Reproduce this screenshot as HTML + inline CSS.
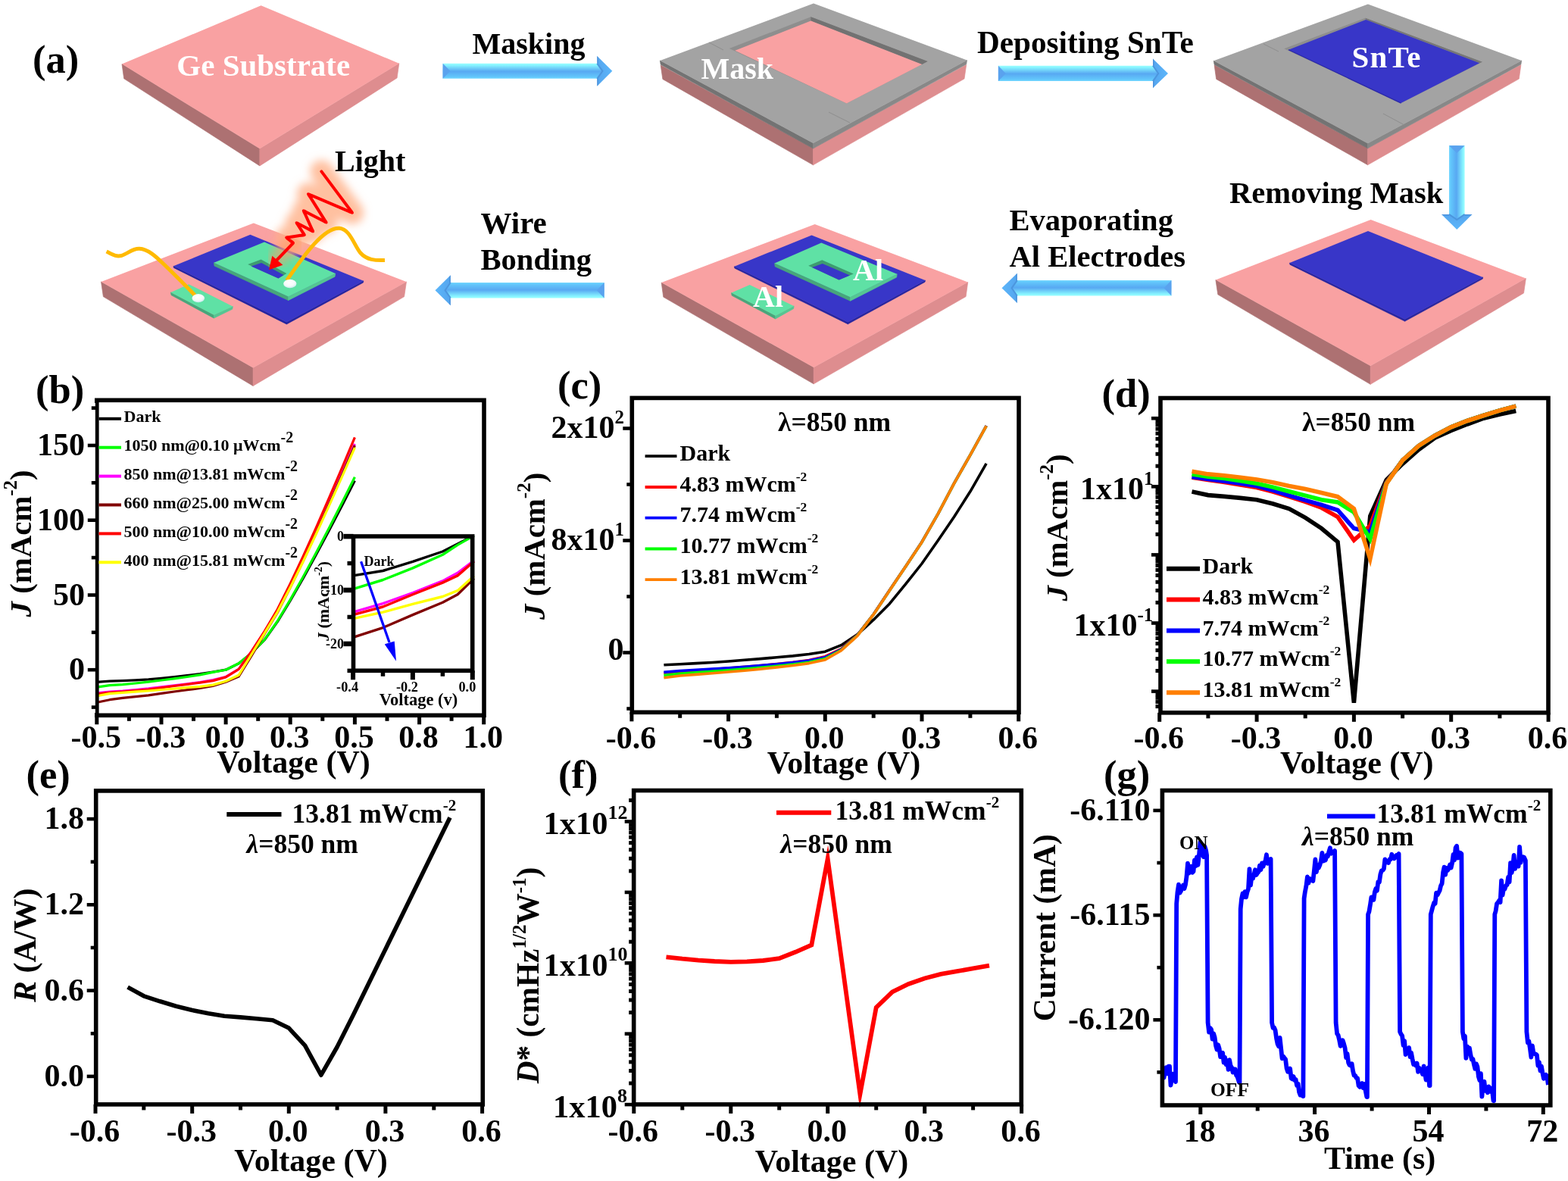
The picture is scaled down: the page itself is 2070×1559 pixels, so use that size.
<!DOCTYPE html>
<html><head><meta charset="utf-8"><title>SnTe/Ge photodetector figure</title>
<style>html,body{margin:0;padding:0;background:#fff;}body{width:2070px;height:1559px;overflow:hidden;}svg{display:block;}</style>
</head><body>
<svg xmlns="http://www.w3.org/2000/svg" width="2070" height="1559" viewBox="0 0 2070 1559"><defs>
<linearGradient id="gA" x1="0" y1="0" x2="0" y2="1" gradientUnits="objectBoundingBox">
<stop offset="0" stop-color="#9CFFFF"/><stop offset="0.12" stop-color="#86F3FF"/>
<stop offset="0.52" stop-color="#58A8F2"/><stop offset="0.88" stop-color="#62C6FB"/><stop offset="1" stop-color="#74D8FF"/></linearGradient>
<linearGradient id="gHead" x1="0" y1="0" x2="1" y2="0" gradientUnits="objectBoundingBox">
<stop offset="0" stop-color="#55A5EE"/><stop offset="1" stop-color="#5CB6FA"/></linearGradient>
<filter id="blur6" x="-50%" y="-50%" width="200%" height="200%"><feGaussianBlur stdDeviation="6"/></filter>
<filter id="blur3" x="-50%" y="-50%" width="200%" height="200%"><feGaussianBlur stdDeviation="3"/></filter>
<radialGradient id="gDot" cx="0.45" cy="0.35" r="0.7"><stop offset="0" stop-color="#FFFFFF"/><stop offset="0.6" stop-color="#F4FAFA"/><stop offset="1" stop-color="#BFE6EC"/></radialGradient>
</defs>
<g font-family="'Liberation Serif','Times New Roman',serif" font-weight="bold">
<text x="43" y="96" font-size="52.5" text-anchor="start" fill="#000" >(a)</text>
<polygon points="161,84.6 342.9,196.3 342.9,218.9 163.7,103.8" fill="#AD7172" stroke="#AD7172" stroke-width="0.7" stroke-linejoin="round"/>
<polygon points="342.9,196.3 526.8,83.7 524.1,102.9 342.9,218.9" fill="#DE8D8F" stroke="#DE8D8F" stroke-width="0.7" stroke-linejoin="round"/>
<polygon points="344.6,7.2 526.8,83.7 342.9,196.3 161,84.6" fill="#F9A1A2" />
<text x="233.3" y="99.5" font-size="41" text-anchor="start" fill="#fff" >Ge Substrate</text>
<g transform="translate(584.6,93.8) rotate(0)"><polygon points="203.7,-19.9 223.7,0 203.7,19.9" fill="url(#gHead)"/><polygon points="203.7,-19.9 205.3,-17.7 205.3,-10 203.7,-10" fill="#4A8FD8" opacity="0.8"/><polygon points="203.7,19.9 205.3,17.7 205.3,10 203.7,10" fill="#4A8FD8" opacity="0.8"/><polygon points="0,-10 203.7,-10 210.9,0 203.7,10 0,10" fill="url(#gA)"/><polyline points="203.7,-10 210.9,0 203.7,10" fill="none" stroke="#4C96DE" stroke-width="2"/><polygon points="0,-10 9.8,0 0,10" fill="#5AA2EE"/></g>
<text x="623.5" y="71.4" font-size="40" text-anchor="start" fill="#000" >Masking</text>
<polygon points="872.2,86 1073.5,196 1073.5,217.8 874.9,104.5" fill="#AD7172" stroke="#AD7172" stroke-width="0.7" stroke-linejoin="round"/>
<polygon points="1073.5,196 1275.7,85.5 1273,104 1073.5,217.8" fill="#DE8D8F" stroke="#DE8D8F" stroke-width="0.7" stroke-linejoin="round"/>
<polygon points="871.4,80 1073.5,189 1073.5,196 872.2,85.2" fill="#737373" stroke="#737373" stroke-width="0.7" stroke-linejoin="round"/>
<polygon points="1073.5,189 1276.5,79.5 1275.7,84.8 1073.5,196" fill="#888888" stroke="#888888" stroke-width="0.7" stroke-linejoin="round"/>
<polygon points="1074,4.6 1276.5,79.5 1073.5,189 871.4,80" fill="#A3A3A3" />
<polygon points="1070.4,22.2 1224.6,81 1117.7,136.5 962.8,64.1" fill="#8E8E8E" />
<polygon points="1070.4,22.2 1224.6,81 1217.1,85.1 1070.4,27.6" fill="#727272" />
<polygon points="1070.4,27.6 1217.1,85.1 1117.7,136.5 970.3,66.8" fill="#F9A1A2" />
<line x1="936" y1="56" x2="955" y2="66" stroke="#8E8E8E" stroke-width="1"/>
<line x1="1094" y1="148" x2="1122" y2="162" stroke="#8E8E8E" stroke-width="1"/>
<text x="925.5" y="104" font-size="40" text-anchor="start" fill="#fff" >Mask</text>
<g transform="translate(1317.9,96.9) rotate(0)"><polygon points="204.1,-19.3 224.1,0 204.1,19.3" fill="url(#gHead)"/><polygon points="204.1,-19.3 205.7,-17.1 205.7,-10.2 204.1,-10.2" fill="#4A8FD8" opacity="0.8"/><polygon points="204.1,19.3 205.7,17.1 205.7,10.2 204.1,10.2" fill="#4A8FD8" opacity="0.8"/><polygon points="0,-10.2 204.1,-10.2 211.3,0 204.1,10.2 0,10.2" fill="url(#gA)"/><polyline points="204.1,-10.2 211.3,0 204.1,10.2" fill="none" stroke="#4C96DE" stroke-width="2"/><polygon points="0,-10.2 9.8,0 0,10.2" fill="#5AA2EE"/></g>
<text x="1290" y="70.2" font-size="41.2" text-anchor="start" fill="#000" >Depositing SnTe</text>
<polygon points="1603.1,85.8 1805.6,195.8 1805.6,217.7 1605.7,104.4" fill="#AD7172" stroke="#AD7172" stroke-width="0.7" stroke-linejoin="round"/>
<polygon points="1805.6,195.8 2007.9,85.5 2005.3,104.1 1805.6,217.7" fill="#DE8D8F" stroke="#DE8D8F" stroke-width="0.7" stroke-linejoin="round"/>
<polygon points="1602.3,80.2 1805.6,189.2 1805.6,195.8 1603.1,85.2" fill="#737373" stroke="#737373" stroke-width="0.7" stroke-linejoin="round"/>
<polygon points="1805.6,189.2 2008.7,79.9 2007.9,84.9 1805.6,195.8" fill="#888888" stroke="#888888" stroke-width="0.7" stroke-linejoin="round"/>
<polygon points="1805.9,5.5 2008.7,79.9 1805.6,189.2 1602.3,80.2" fill="#A3A3A3" />
<polygon points="1802.5,23.8 1956.8,81.7 1849.6,136.1 1695.2,64.3" fill="#8E8E8E" />
<polygon points="1802.5,23.8 1956.8,81.7 1953.2,83.2 1803.2,25.9" fill="#777777" />
<polygon points="1803.2,25.9 1953.2,83.2 1849.6,136.1 1701,65.8" fill="#3836C8" />
<polyline points="1701,65.8 1849.6,136.1" fill="none" stroke="#2A28A8" stroke-width="1.2"/>
<line x1="1668" y1="58" x2="1688" y2="68" stroke="#8E8E8E" stroke-width="1"/>
<line x1="1826" y1="150" x2="1854" y2="165" stroke="#8E8E8E" stroke-width="1"/>
<text x="1784.5" y="88.5" font-size="41" text-anchor="start" fill="#fff" letter-spacing="1.2">SnTe</text>
<g transform="translate(1923.3,192.3) rotate(90)"><polygon points="90.6,-20.2 110.7,0 90.6,20.2" fill="url(#gHead)"/><polygon points="90.6,-20.2 92.2,-18 92.2,-10.3 90.6,-10.3" fill="#4A8FD8" opacity="0.8"/><polygon points="90.6,20.2 92.2,18 92.2,10.3 90.6,10.3" fill="#4A8FD8" opacity="0.8"/><polygon points="0,-10.3 90.6,-10.3 97.8,0 90.6,10.3 0,10.3" fill="url(#gA)"/><polyline points="90.6,-10.3 97.8,0 90.6,10.3" fill="none" stroke="#4C96DE" stroke-width="2"/><polygon points="0,-10.3 9.8,0 0,10.3" fill="#5AA2EE"/></g>
<text x="1623" y="268" font-size="40.5" text-anchor="start" fill="#000" >Removing Mask</text>
<polygon points="1604.9,369.4 1809.2,483.1 1809.2,507.3 1607.8,388.8" fill="#AD7172" stroke="#AD7172" stroke-width="0.7" stroke-linejoin="round"/>
<polygon points="1809.2,483.1 2014.4,367.5 2011.5,386.9 1809.2,507.3" fill="#DE8D8F" stroke="#DE8D8F" stroke-width="0.7" stroke-linejoin="round"/>
<polygon points="1809.6,290.1 2014.4,367.5 1809.2,483.1 1604.9,369.4" fill="#F9A1A2" />
<polygon points="1702.6,347 1854.6,421.5 1854.6,424.1 1702.9,349.2" fill="#2424A0" stroke="#2424A0" stroke-width="0.7" stroke-linejoin="round"/>
<polygon points="1854.6,421.5 1957.6,365.9 1957.3,368.1 1854.6,424.1" fill="#2424A0" stroke="#2424A0" stroke-width="0.7" stroke-linejoin="round"/>
<polygon points="1806,305 1957.6,365.9 1854.6,421.5 1702.6,347" fill="#3836C8" />
<g transform="translate(1546.4,380.3) rotate(180)"><polygon points="203.6,-19.6 223.9,0 203.6,19.6" fill="url(#gHead)"/><polygon points="203.6,-19.6 205.2,-17.4 205.2,-10.2 203.6,-10.2" fill="#4A8FD8" opacity="0.8"/><polygon points="203.6,19.6 205.2,17.4 205.2,10.2 203.6,10.2" fill="#4A8FD8" opacity="0.8"/><polygon points="0,-10.2 203.6,-10.2 210.8,0 203.6,10.2 0,10.2" fill="url(#gA)"/><polyline points="203.6,-10.2 210.8,0 203.6,10.2" fill="none" stroke="#4C96DE" stroke-width="2"/><polygon points="0,-10.2 9.8,0 0,10.2" fill="#5AA2EE"/></g>
<text x="1332.5" y="303.5" font-size="40.6" text-anchor="start" fill="#000" >Evaporating</text>
<text x="1332.5" y="352" font-size="40.6" text-anchor="start" fill="#000" >Al Electrodes</text>
<polygon points="873.2,373.1 1074.2,485 1074.2,506.8 875.8,392.1" fill="#AD7172" stroke="#AD7172" stroke-width="0.7" stroke-linejoin="round"/>
<polygon points="1074.2,485 1277.7,372.5 1275.1,391.5 1074.2,506.8" fill="#DE8D8F" stroke="#DE8D8F" stroke-width="0.7" stroke-linejoin="round"/>
<polygon points="1075.7,296 1277.7,372.5 1074.2,485 873.2,373.1" fill="#F9A1A2" />
<polygon points="969.5,351.8 1119.3,425.2 1119.3,427.8 969.8,354" fill="#2424A0" stroke="#2424A0" stroke-width="0.7" stroke-linejoin="round"/>
<polygon points="1119.3,425.2 1221.4,370 1221.1,372.2 1119.3,427.8" fill="#2424A0" stroke="#2424A0" stroke-width="0.7" stroke-linejoin="round"/>
<polygon points="1071.5,310.4 1221.4,370 1119.3,425.2 969.5,351.8" fill="#3836C8" />
<polygon points="1022.6,347.6 1122.5,392.2 1122.5,397.2 1023.2,351.9" fill="#47A67B" stroke="#47A67B" stroke-width="0.7" stroke-linejoin="round"/>
<polygon points="1122.5,392.2 1184.2,361.8 1183.6,366.1 1122.5,397.2" fill="#55C592" stroke="#55C592" stroke-width="0.7" stroke-linejoin="round"/>
<polygon points="1084.3,320.6 1184.2,361.8 1122.5,392.2 1022.6,347.6" fill="#5FE1A5" />
<polygon points="1085.3,343.3 1126.8,361.4 1107.6,369.5 1067.2,350.8" fill="#3E9C70" />
<polygon points="1085.8,348 1122,363.5 1107.6,369.5 1072,353" fill="#3836C8" />
<polygon points="965.6,386.5 1023.7,416.7 1023.7,420.9 966.1,390.1" fill="#47A67B" stroke="#47A67B" stroke-width="0.7" stroke-linejoin="round"/>
<polygon points="1023.7,416.7 1048.1,403.9 1047.6,407.5 1023.7,420.9" fill="#55C592" stroke="#55C592" stroke-width="0.7" stroke-linejoin="round"/>
<polygon points="989.7,375.9 1048.1,403.9 1023.7,416.7 965.6,386.5" fill="#5FE1A5" />
<text x="994" y="405" font-size="40" text-anchor="start" fill="#fff" >Al</text>
<text x="1126" y="370" font-size="40" text-anchor="start" fill="#fff" >Al</text>
<g transform="translate(797.7,383.2) rotate(180)"><polygon points="202.9,-20 223.2,0 202.9,20" fill="url(#gHead)"/><polygon points="202.9,-20 204.5,-17.8 204.5,-10.2 202.9,-10.2" fill="#4A8FD8" opacity="0.8"/><polygon points="202.9,20 204.5,17.8 204.5,10.2 202.9,10.2" fill="#4A8FD8" opacity="0.8"/><polygon points="0,-10.2 202.9,-10.2 210.1,0 202.9,10.2 0,10.2" fill="url(#gA)"/><polyline points="202.9,-10.2 210.1,0 202.9,10.2" fill="none" stroke="#4C96DE" stroke-width="2"/><polygon points="0,-10.2 9.8,0 0,10.2" fill="#5AA2EE"/></g>
<text x="634.5" y="307.8" font-size="41" text-anchor="start" fill="#000" >Wire</text>
<text x="634.5" y="355.7" font-size="40.6" text-anchor="start" fill="#000" >Bonding</text>
<polygon points="133.5,371.9 334.1,485.4 334.1,509.4 136.4,391.6" fill="#AD7172" stroke="#AD7172" stroke-width="0.7" stroke-linejoin="round"/>
<polygon points="334.1,485.4 536.5,371.9 533.6,391.6 334.1,509.4" fill="#DE8D8F" stroke="#DE8D8F" stroke-width="0.7" stroke-linejoin="round"/>
<polygon points="334.8,294.5 536.5,371.9 334.1,485.4 133.5,371.9" fill="#F9A1A2" />
<polygon points="229,351.2 378.4,425.3 378.4,427.9 229.3,353.4" fill="#2424A0" stroke="#2424A0" stroke-width="0.7" stroke-linejoin="round"/>
<polygon points="378.4,425.3 479.8,370.8 479.5,373 378.4,427.9" fill="#2424A0" stroke="#2424A0" stroke-width="0.7" stroke-linejoin="round"/>
<polygon points="330.4,309.7 479.8,370.8 378.4,425.3 229,351.2" fill="#3836C8" />
<polygon points="282.4,346.8 380.6,391.5 380.6,396.5 283,351.1" fill="#47A67B" stroke="#47A67B" stroke-width="0.7" stroke-linejoin="round"/>
<polygon points="380.6,391.5 442.7,361 442.1,365.2 380.6,396.5" fill="#55C592" stroke="#55C592" stroke-width="0.7" stroke-linejoin="round"/>
<polygon points="349,319.6 442.7,361 380.6,391.5 282.4,346.8" fill="#5FE1A5" />
<polygon points="344.6,342.4 378.4,361 367.5,367.5 327.2,349" fill="#3E9C70" />
<polygon points="345.2,347 374.5,363 367.5,367.5 331.5,351.5" fill="#3836C8" />
<polygon points="225.5,385.9 282.4,415.8 282.4,420 226,389.5" fill="#47A67B" stroke="#47A67B" stroke-width="0.7" stroke-linejoin="round"/>
<polygon points="282.4,415.8 307.3,404.5 306.8,408.1 282.4,420" fill="#55C592" stroke="#55C592" stroke-width="0.7" stroke-linejoin="round"/>
<polygon points="249.3,375.2 307.3,404.5 282.4,415.8 225.5,385.9" fill="#5FE1A5" />
<polyline points="424.4,226.4 465,280.8 407,256.2 430.6,293.6 400.8,278.2 413.1,305.4 391.6,294.2 401.8,310.1 378.2,313.6 387,320.8" fill="none" stroke="#FFB088" stroke-opacity="0.8" stroke-width="30" stroke-linejoin="round" stroke-linecap="round" filter="url(#blur6)"/>
<polyline points="387,320.8 365,342" fill="none" stroke="#FF9A60" stroke-opacity="0.55" stroke-width="22" stroke-linecap="round" filter="url(#blur6)"/>
<path d="M424.4,226.4 L462.0,276.8 C466.0,282.2 466.6,281.5 460.4,278.8 L411.6,258.2 C405.4,255.5 406.1,254.7 409.7,260.4 L427.9,289.4 C431.5,295.1 432.2,294.4 426.2,291.3 L405.2,280.5 C399.2,277.4 400.1,276.6 402.9,282.8 L411.0,300.8 C413.8,307.0 414.7,306.2 408.7,303.1 L396.0,296.5 C390.0,293.4 390.7,292.7 394.3,298.4 L399.1,305.9 C402.7,311.6 403.5,309.8 396.9,310.8 L382.7,312.9 C376.6,313.8 377.0,312.6 381.7,316.5 L383.5,317.9 C388.2,321.8 388.1,319.7 383.9,324.1 L358.5,350.5" fill="none" stroke="#FF0000" stroke-width="4" stroke-linejoin="round" stroke-linecap="round"/>
<polygon points="355.1,356.2 359.3,337.8 373.4,349.8" fill="#FF0000" />
<path d="M140.6,332 C149,336 153,339 160,337.5 C168,335.5 174,328 184,328.3 C196,329 206,339 216,348.5 C230,362 246,378 257.5,390" fill="none" stroke="#FFBA00" stroke-width="5"/>
<path d="M378.5,370 C395,347 425,300 448,301.3 C462,302 468,325 476,334 C484,343 495,344 508,343.5" fill="none" stroke="#FFBA00" stroke-width="5"/>
<ellipse cx="261.8" cy="393.6" rx="8.3" ry="5.6" fill="url(#gDot)"/>
<ellipse cx="382.8" cy="374.5" rx="8.6" ry="5.8" fill="url(#gDot)"/>
<text x="442" y="225.8" font-size="40" text-anchor="start" fill="#000" >Light</text>
</g>
<g font-family="'Liberation Serif','Times New Roman',serif" font-weight="bold">
<text x="47" y="532.3" font-size="52.5" text-anchor="start" fill="#000" >(b)</text>
<polyline points="127.8,900.4 144.8,899.2 161.9,898.6 178.9,897.8 195.9,896.8 213,895.3 230,893.5 247,891.7 264,889.7 281.1,887 298.1,884.2 315.1,875.9 332.2,861.9 349.2,844.7 366.2,820.9 383.2,793 400.3,763.3 417.3,732.3 434.3,700.4 451.4,667.7 468.4,634.4" fill="none" stroke="#000000" stroke-width="3.2" stroke-linejoin="round" />
<polyline points="127.8,907.1 144.8,904.7 161.9,903.6 178.9,902 195.9,900.2 213,898 230,895.9 247,893.5 264,890.9 281.1,887.4 298.1,884.2 315.1,875.7 332.2,861.9 349.2,844.3 366.2,820 383.2,791.6 400.3,761.3 417.3,729.7 434.3,697.2 451.4,663.8 468.4,629.8" fill="none" stroke="#00FF00" stroke-width="3.2" stroke-linejoin="round" />
<polyline points="127.8,914.8 144.8,913 161.9,912 178.9,910.5 195.9,908.9 213,906.9 230,904.9 247,902.8 264,900.6 281.1,897.6 298.1,893.5 315.1,883.4 332.2,859.7 349.2,833.8 366.2,805.8 383.2,772.9 400.3,737.9 417.3,701.4 434.3,663.8 451.4,625.3 468.4,586" fill="none" stroke="#FF00FF" stroke-width="3.2" stroke-linejoin="round" />
<polyline points="127.8,927.3 144.8,923.7 161.9,921.3 178.9,919.6 195.9,917.8 213,915.4 230,913 247,910.7 264,908.5 281.1,905.5 298.1,900.2 315.1,893.1 332.2,865.4 349.2,836.8 366.2,808.7 383.2,775.6 400.3,740.5 417.3,703.8 434.3,666.1 451.4,627.4 468.4,588" fill="none" stroke="#800000" stroke-width="3.2" stroke-linejoin="round" />
<polyline points="127.8,916.2 144.8,914 161.9,913 178.9,911.7 195.9,910.1 213,907.9 230,905.5 247,903.4 264,901.2 281.1,898.6 298.1,893.9 315.1,883.4 332.2,859.7 349.2,833.4 366.2,804.5 383.2,770.5 400.3,734.3 417.3,696.6 434.3,657.7 451.4,617.9 468.4,577.3" fill="none" stroke="#FF0000" stroke-width="3.2" stroke-linejoin="round" />
<polyline points="127.8,918.8 144.8,915.6 161.9,914.4 178.9,913.2 195.9,912 213,910.5 230,909.1 247,907.7 264,906.3 281.1,904.1 298.1,899.2 315.1,891.3 332.2,863.5 349.2,835.8 366.2,808.1 383.2,775.6 400.3,741 417.3,705 434.3,667.8 451.4,629.7 468.4,590.9" fill="none" stroke="#FFFF00" stroke-width="3.2" stroke-linejoin="round" />
<rect x="127.8" y="528.3" width="511.2" height="416" fill="none" stroke="#000" stroke-width="5.6"/>
<rect x="124" y="532" width="1.8" height="409" fill="#fff"/>
<line x1="127.8" y1="944.3" x2="127.8" y2="956.3" stroke="#000" stroke-width="5"/>
<text x="126.8" y="986.5" font-size="42" text-anchor="middle" fill="#000" >-0.5</text>
<line x1="213" y1="944.3" x2="213" y2="956.3" stroke="#000" stroke-width="5"/>
<text x="212" y="986.5" font-size="42" text-anchor="middle" fill="#000" >-0.3</text>
<line x1="298.1" y1="944.3" x2="298.1" y2="956.3" stroke="#000" stroke-width="5"/>
<text x="297.1" y="986.5" font-size="42" text-anchor="middle" fill="#000" >0.0</text>
<line x1="383.2" y1="944.3" x2="383.2" y2="956.3" stroke="#000" stroke-width="5"/>
<text x="382.2" y="986.5" font-size="42" text-anchor="middle" fill="#000" >0.3</text>
<line x1="468.4" y1="944.3" x2="468.4" y2="956.3" stroke="#000" stroke-width="5"/>
<text x="467.4" y="986.5" font-size="42" text-anchor="middle" fill="#000" >0.5</text>
<line x1="553.6" y1="944.3" x2="553.6" y2="956.3" stroke="#000" stroke-width="5"/>
<text x="552.6" y="986.5" font-size="42" text-anchor="middle" fill="#000" >0.8</text>
<line x1="638.7" y1="944.3" x2="638.7" y2="956.3" stroke="#000" stroke-width="5"/>
<text x="637.7" y="986.5" font-size="42" text-anchor="middle" fill="#000" >1.0</text>
<line x1="170.4" y1="944.3" x2="170.4" y2="951.8" stroke="#000" stroke-width="5"/>
<line x1="255.5" y1="944.3" x2="255.5" y2="951.8" stroke="#000" stroke-width="5"/>
<line x1="340.7" y1="944.3" x2="340.7" y2="951.8" stroke="#000" stroke-width="5"/>
<line x1="425.8" y1="944.3" x2="425.8" y2="951.8" stroke="#000" stroke-width="5"/>
<line x1="511" y1="944.3" x2="511" y2="951.8" stroke="#000" stroke-width="5"/>
<line x1="596.1" y1="944.3" x2="596.1" y2="951.8" stroke="#000" stroke-width="5"/>
<line x1="127.8" y1="884.2" x2="115.8" y2="884.2" stroke="#000" stroke-width="4.6"/>
<text x="112" y="897.2" font-size="42" text-anchor="end" fill="#000" >0</text>
<line x1="127.8" y1="785.5" x2="115.8" y2="785.5" stroke="#000" stroke-width="4.6"/>
<text x="112" y="798.5" font-size="42" text-anchor="end" fill="#000" >50</text>
<line x1="127.8" y1="686.7" x2="115.8" y2="686.7" stroke="#000" stroke-width="4.6"/>
<text x="112" y="699.7" font-size="42" text-anchor="end" fill="#000" >100</text>
<line x1="127.8" y1="588" x2="115.8" y2="588" stroke="#000" stroke-width="4.6"/>
<text x="112" y="601" font-size="42" text-anchor="end" fill="#000" >150</text>
<line x1="127.8" y1="933.6" x2="120.8" y2="933.6" stroke="#000" stroke-width="4.6"/>
<line x1="127.8" y1="834.8" x2="120.8" y2="834.8" stroke="#000" stroke-width="4.6"/>
<line x1="127.8" y1="736.1" x2="120.8" y2="736.1" stroke="#000" stroke-width="4.6"/>
<line x1="127.8" y1="637.3" x2="120.8" y2="637.3" stroke="#000" stroke-width="4.6"/>
<line x1="127.8" y1="538.6" x2="120.8" y2="538.6" stroke="#000" stroke-width="4.6"/>
<text x="387.5" y="1020" font-size="42" text-anchor="middle" fill="#000" >Voltage (V)</text>
<text transform="translate(40.6,717.4) rotate(-90)" font-size="40.8" text-anchor="middle"><tspan font-style="italic">J</tspan> (mAcm<tspan font-size="25" dy="-19">-2</tspan><tspan dy="19">)</tspan></text>
<line x1="130.5" y1="552.8" x2="160" y2="552.8" stroke="#000000" stroke-width="4"/>
<text x="163.5" y="557.1" font-size="22" text-anchor="start" fill="#000" >Dark</text>
<line x1="130.5" y1="590.7" x2="160" y2="590.7" stroke="#00FF00" stroke-width="4"/>
<text x="163.5" y="595" font-size="22" text-anchor="start" fill="#000" >1050 nm@0.10 μWcm<tspan font-size="20" dy="-11">-2</tspan></text>
<line x1="130.5" y1="628.6" x2="160" y2="628.6" stroke="#FF00FF" stroke-width="4"/>
<text x="163.5" y="632.9" font-size="22" text-anchor="start" fill="#000" >850 nm@13.81 mWcm<tspan font-size="20" dy="-11">-2</tspan></text>
<line x1="130.5" y1="666.5" x2="160" y2="666.5" stroke="#800000" stroke-width="4"/>
<text x="163.5" y="670.8" font-size="22" text-anchor="start" fill="#000" >660 nm@25.00 mWcm<tspan font-size="20" dy="-11">-2</tspan></text>
<line x1="130.5" y1="704.4" x2="160" y2="704.4" stroke="#FF0000" stroke-width="4"/>
<text x="163.5" y="708.7" font-size="22" text-anchor="start" fill="#000" >500 nm@10.00 mWcm<tspan font-size="20" dy="-11">-2</tspan></text>
<line x1="130.5" y1="742.3" x2="160" y2="742.3" stroke="#FFFF00" stroke-width="4"/>
<text x="163.5" y="746.6" font-size="22" text-anchor="start" fill="#000" >400 nm@15.81 mWcm<tspan font-size="20" dy="-11">-2</tspan></text>
<polyline points="466.1,759.9 505.5,753.5 544.9,741.4 584.4,728 604.1,718 623.8,708.1 625.8,707.1" fill="none" stroke="#000000" stroke-width="3.4" stroke-linejoin="round" />
<polyline points="466.1,777.6 505.5,765.5 544.9,749.9 584.4,732.2 604.1,719.4 623.8,708.1 625.8,707" fill="none" stroke="#00FF00" stroke-width="3.4" stroke-linejoin="round" />
<polyline points="466.1,808.1 505.5,796.7 544.9,782.5 584.4,766.9 604.1,756.3 623.8,741.4 625.8,739.9" fill="none" stroke="#FF00FF" stroke-width="3.4" stroke-linejoin="round" />
<polyline points="466.1,841.4 505.5,828.6 544.9,811.6 584.4,795.3 604.1,784.7 623.8,765.5 625.8,763.6" fill="none" stroke="#800000" stroke-width="3.4" stroke-linejoin="round" />
<polyline points="466.1,811.6 505.5,801 544.9,784.7 584.4,769.1 604.1,759.9 623.8,742.8 625.8,741.1" fill="none" stroke="#FF0000" stroke-width="3.4" stroke-linejoin="round" />
<polyline points="466.1,816.6 505.5,808.1 544.9,797.4 584.4,787.5 604.1,779.7 623.8,762 625.8,760.2" fill="none" stroke="#FFFF00" stroke-width="3.4" stroke-linejoin="round" />
<rect x="466.5" y="708" width="157.2" height="177.3" fill="none" stroke="#000" stroke-width="5.6"/>
<line x1="466.1" y1="885.3" x2="466.1" y2="897.3" stroke="#000" stroke-width="6"/>
<line x1="544.9" y1="885.3" x2="544.9" y2="897.3" stroke="#000" stroke-width="6"/>
<line x1="623.8" y1="885.3" x2="623.8" y2="897.3" stroke="#000" stroke-width="6"/>
<line x1="505.5" y1="885.3" x2="505.5" y2="892.8" stroke="#000" stroke-width="5.5"/>
<line x1="584.4" y1="885.3" x2="584.4" y2="892.8" stroke="#000" stroke-width="5.5"/>
<text x="458.6" y="913" font-size="18.3" text-anchor="middle" fill="#000" >-0.4</text>
<text x="537.5" y="913" font-size="18.3" text-anchor="middle" fill="#000" >-0.2</text>
<text x="616.9" y="913" font-size="18.3" text-anchor="middle" fill="#000" >0.0</text>
<line x1="466.5" y1="708.1" x2="453.5" y2="708.1" stroke="#000" stroke-width="6.5"/>
<line x1="466.5" y1="779" x2="453.5" y2="779" stroke="#000" stroke-width="6.5"/>
<line x1="466.5" y1="849.9" x2="453.5" y2="849.9" stroke="#000" stroke-width="6.5"/>
<line x1="466.5" y1="743.6" x2="458.5" y2="743.6" stroke="#000" stroke-width="5.5"/>
<line x1="466.5" y1="814.5" x2="458.5" y2="814.5" stroke="#000" stroke-width="5.5"/>
<line x1="466.5" y1="885.4" x2="458.5" y2="885.4" stroke="#000" stroke-width="5.5"/>
<text x="454" y="713.5" font-size="18" text-anchor="end" fill="#000" >0</text>
<text x="454" y="784.6" font-size="18" text-anchor="end" fill="#000" >-10</text>
<text x="454" y="855.7" font-size="18" text-anchor="end" fill="#000" >-20</text>
<text x="552.5" y="930.7" font-size="22.5" text-anchor="middle" fill="#000" >Voltage (v)</text>
<text transform="translate(433.5,793.5) rotate(-90)" font-size="22" text-anchor="middle"><tspan font-style="italic">J</tspan> (mAcm<tspan font-size="14" dy="-9">-2</tspan><tspan dy="9">)</tspan></text>
<text x="480.5" y="747" font-size="18" text-anchor="start" fill="#000" >Dark</text>
<line x1="476.6" y1="741.3" x2="514" y2="848" stroke="#0000FF" stroke-width="3.3"/>
<polygon points="523,872.8 507.8,850.4 520.7,846.4" fill="#0000FF" />
<text x="736" y="526" font-size="52.5" text-anchor="start" fill="#000" >(c)</text>
<polyline points="876.4,877.8 897.7,876.7 919,875.6 940.3,874.5 961.6,873 982.9,871.3 1004.2,869.6 1025.4,867.8 1046.7,865.9 1068,863.5 1089.3,860.2 1110.6,851.7 1131.9,837.6 1153.2,818.2 1174.4,796.9 1195.7,770.9 1217,744 1238.3,713.5 1259.6,682.2 1280.9,648.8 1302.1,611.8" fill="none" stroke="#000000" stroke-width="3.6" stroke-linejoin="round" />
<polyline points="876.4,888.3 897.7,886.5 919,885 940.3,883.5 961.6,882 982.9,880.4 1004.2,878.5 1025.4,876.5 1046.7,874.3 1068,871.5 1089.3,866.7 1110.6,856.7 1131.9,838.2 1153.2,810.8 1174.4,779 1195.7,747.5 1217,715.4 1238.3,678.4 1259.6,637.8 1280.9,600.6 1302.1,562" fill="none" stroke="#FF0000" stroke-width="3.6" stroke-linejoin="round" />
<polyline points="876.4,887.4 897.7,885.5 919,884.3 940.3,883 961.6,881.7 982.9,880.2 1004.2,878.5 1025.4,876.7 1046.7,874.6 1068,872 1089.3,867.8 1110.6,857.4 1131.9,838.6 1153.2,811 1174.4,779.2 1195.7,747.7 1217,715.5 1238.3,678.4 1259.6,638 1280.9,600.6 1302.1,562.2" fill="none" stroke="#0000FF" stroke-width="3.6" stroke-linejoin="round" />
<polyline points="876.4,891.5 897.7,889.2 919,887.8 940.3,886.3 961.6,884.8 982.9,883.1 1004.2,881.3 1025.4,879.3 1046.7,877 1068,874.3 1089.3,869.6 1110.6,858.2 1131.9,838.9 1153.2,811.2 1174.4,779.4 1195.7,747.7 1217,715.7 1238.3,678.4 1259.6,638.2 1280.9,600.6 1302.1,562.4" fill="none" stroke="#00FF00" stroke-width="3.6" stroke-linejoin="round" />
<polyline points="876.4,894.8 897.7,892 919,890.4 940.3,888.7 961.6,887 982.9,885.2 1004.2,883.1 1025.4,880.9 1046.7,878.5 1068,875.6 1089.3,870.9 1110.6,858.7 1131.9,839.3 1153.2,811.2 1174.4,779.4 1195.7,747.7 1217,715.7 1238.3,678.4 1259.6,638.2 1280.9,600.6 1302.1,562.4" fill="none" stroke="#FF7F00" stroke-width="3.6" stroke-linejoin="round" />
<rect x="834.3" y="525.4" width="510.7" height="414.9" fill="none" stroke="#000" stroke-width="5.6"/>
<line x1="833.9" y1="940.3" x2="833.9" y2="952.3" stroke="#000" stroke-width="5"/>
<text x="832.9" y="988.4" font-size="42" text-anchor="middle" fill="#000" >-0.6</text>
<line x1="961.6" y1="940.3" x2="961.6" y2="952.3" stroke="#000" stroke-width="5"/>
<text x="960.6" y="988.4" font-size="42" text-anchor="middle" fill="#000" >-0.3</text>
<line x1="1089.3" y1="940.3" x2="1089.3" y2="952.3" stroke="#000" stroke-width="5"/>
<text x="1088.3" y="988.4" font-size="42" text-anchor="middle" fill="#000" >0.0</text>
<line x1="1217" y1="940.3" x2="1217" y2="952.3" stroke="#000" stroke-width="5"/>
<text x="1216" y="988.4" font-size="42" text-anchor="middle" fill="#000" >0.3</text>
<line x1="1344.7" y1="940.3" x2="1344.7" y2="952.3" stroke="#000" stroke-width="5"/>
<text x="1343.7" y="988.4" font-size="42" text-anchor="middle" fill="#000" >0.6</text>
<line x1="897.7" y1="940.3" x2="897.7" y2="947.8" stroke="#000" stroke-width="5"/>
<line x1="1025.4" y1="940.3" x2="1025.4" y2="947.8" stroke="#000" stroke-width="5"/>
<line x1="1153.2" y1="940.3" x2="1153.2" y2="947.8" stroke="#000" stroke-width="5"/>
<line x1="1280.9" y1="940.3" x2="1280.9" y2="947.8" stroke="#000" stroke-width="5"/>
<line x1="834.3" y1="861.5" x2="822.3" y2="861.5" stroke="#000" stroke-width="4.6"/>
<line x1="834.3" y1="713.5" x2="822.3" y2="713.5" stroke="#000" stroke-width="4.6"/>
<line x1="834.3" y1="565.5" x2="822.3" y2="565.5" stroke="#000" stroke-width="4.6"/>
<line x1="834.3" y1="935.5" x2="827.3" y2="935.5" stroke="#000" stroke-width="4.6"/>
<line x1="834.3" y1="787.5" x2="827.3" y2="787.5" stroke="#000" stroke-width="4.6"/>
<line x1="834.3" y1="639.5" x2="827.3" y2="639.5" stroke="#000" stroke-width="4.6"/>
<text x="823.5" y="870.5" font-size="42" text-anchor="end" fill="#000" >0</text>
<text x="727.5" y="726" font-size="42" text-anchor="start" fill="#000" >8x10<tspan font-size="25" dy="-19">1</tspan></text>
<text x="727.5" y="578" font-size="42" text-anchor="start" fill="#000" >2x10<tspan font-size="25" dy="-19">2</tspan></text>
<text x="1114" y="1021" font-size="42" text-anchor="middle" fill="#000" >Voltage (V)</text>
<text transform="translate(719.4,720.8) rotate(-90)" font-size="40.8" text-anchor="middle"><tspan font-style="italic">J</tspan> (mAcm<tspan font-size="25" dy="-19">-2</tspan><tspan dy="19">)</tspan></text>
<text x="1027" y="569.4" font-size="35.5" text-anchor="start" fill="#000" >λ=850 nm</text>
<line x1="851.6" y1="602.2" x2="893.5" y2="602.2" stroke="#000000" stroke-width="3.8"/>
<text x="897.5" y="607.7" font-size="30" text-anchor="start" fill="#000" >Dark</text>
<line x1="851.6" y1="643" x2="893.5" y2="643" stroke="#FF0000" stroke-width="3.8"/>
<text x="897.5" y="648.5" font-size="30" text-anchor="start" fill="#000" >4.83 mWcm<tspan font-size="17.5" dy="-14">-2</tspan></text>
<line x1="851.6" y1="683.7" x2="893.5" y2="683.7" stroke="#0000FF" stroke-width="3.8"/>
<text x="897.5" y="689.2" font-size="30" text-anchor="start" fill="#000" >7.74 mWcm<tspan font-size="17.5" dy="-14">-2</tspan></text>
<line x1="851.6" y1="724.5" x2="893.5" y2="724.5" stroke="#00FF00" stroke-width="3.8"/>
<text x="897.5" y="730" font-size="30" text-anchor="start" fill="#000" >10.77 mWcm<tspan font-size="17.5" dy="-14">-2</tspan></text>
<line x1="851.6" y1="765.2" x2="893.5" y2="765.2" stroke="#FF7F00" stroke-width="3.8"/>
<text x="897.5" y="770.7" font-size="30" text-anchor="start" fill="#000" >13.81 mWcm<tspan font-size="17.5" dy="-14">-2</tspan></text>
<text x="1454.5" y="536.6" font-size="52.5" text-anchor="start" fill="#000" >(d)</text>
<polyline points="1573.5,649 1594.9,653.6 1616.3,655.4 1637.7,657.4 1659.1,659.8 1680.5,665 1701.8,671.5 1723.2,683.4 1744.6,697.5 1766,715.3 1787.4,927.7 1808.8,681.2 1830.2,633.6 1851.6,612.3 1873,593.4 1894.4,578 1915.7,568.5 1937.1,560 1958.5,552.2 1979.9,547.1 2001.3,542.5" fill="none" stroke="#000000" stroke-width="5.6" stroke-linejoin="miter" stroke-miterlimit="6"/>
<polyline points="1573.5,630.3 1594.9,633.6 1616.3,636.5 1637.7,640 1659.1,643.5 1680.5,649.1 1701.8,655.7 1723.2,662.3 1744.6,670.2 1766,682.3 1787.4,713 1808.8,694 1830.2,636.8 1851.6,607.7 1873,588.5 1894.4,574.9 1915.7,563.8 1937.1,555.5 1958.5,548.5 1979.9,541.9 2001.3,536.1" fill="none" stroke="#FF0000" stroke-width="5.6" stroke-linejoin="miter" stroke-miterlimit="6"/>
<polyline points="1573.5,629.4 1594.9,632.6 1616.3,635.2 1637.7,638.2 1659.1,641.5 1680.5,647.3 1701.8,654.1 1723.2,660.4 1744.6,666.4 1766,673.5 1787.4,697.5 1808.8,702.3 1830.2,637.9 1851.6,607.7 1873,588.5 1894.4,574.9 1915.7,563.8 1937.1,555.5 1958.5,548.5 1979.9,541.9 2001.3,536.1" fill="none" stroke="#0000FF" stroke-width="5.6" stroke-linejoin="miter" stroke-miterlimit="6"/>
<polyline points="1573.5,625.9 1594.9,629.1 1616.3,631.4 1637.7,634.8 1659.1,638.2 1680.5,643.1 1701.8,648.7 1723.2,654.1 1744.6,659.8 1766,662.9 1787.4,676.2 1808.8,711.6 1830.2,638.2 1851.6,607.7 1873,588.5 1894.4,574.9 1915.7,563.8 1937.1,555.5 1958.5,548.5 1979.9,541.9 2001.3,536.1" fill="none" stroke="#00FF00" stroke-width="5.6" stroke-linejoin="miter" stroke-miterlimit="6"/>
<polyline points="1573.5,622.2 1594.9,625.9 1616.3,627.8 1637.7,630.3 1659.1,632.9 1680.5,636.8 1701.8,641.5 1723.2,645.6 1744.6,650.5 1766,655.7 1787.4,671.5 1808.8,737.8 1830.2,638.6 1851.6,607.7 1873,588.5 1894.4,574.9 1915.7,563.8 1937.1,555.5 1958.5,548.5 1979.9,541.9 2001.3,536.1" fill="none" stroke="#FF7F00" stroke-width="5.6" stroke-linejoin="miter" stroke-miterlimit="6"/>
<rect x="1532" y="525.5" width="512" height="415.3" fill="none" stroke="#000" stroke-width="5.6"/>
<line x1="1530.7" y1="940.8" x2="1530.7" y2="952.8" stroke="#000" stroke-width="5"/>
<text x="1529.7" y="988.3" font-size="42" text-anchor="middle" fill="#000" >-0.6</text>
<line x1="1659.1" y1="940.8" x2="1659.1" y2="952.8" stroke="#000" stroke-width="5"/>
<text x="1658.1" y="988.3" font-size="42" text-anchor="middle" fill="#000" >-0.3</text>
<line x1="1787.4" y1="940.8" x2="1787.4" y2="952.8" stroke="#000" stroke-width="5"/>
<text x="1786.4" y="988.3" font-size="42" text-anchor="middle" fill="#000" >0.0</text>
<line x1="1915.7" y1="940.8" x2="1915.7" y2="952.8" stroke="#000" stroke-width="5"/>
<text x="1914.7" y="988.3" font-size="42" text-anchor="middle" fill="#000" >0.3</text>
<line x1="2044.1" y1="940.8" x2="2044.1" y2="952.8" stroke="#000" stroke-width="5"/>
<text x="2043.1" y="988.3" font-size="42" text-anchor="middle" fill="#000" >0.6</text>
<line x1="1594.9" y1="940.8" x2="1594.9" y2="948.3" stroke="#000" stroke-width="5"/>
<line x1="1723.2" y1="940.8" x2="1723.2" y2="948.3" stroke="#000" stroke-width="5"/>
<line x1="1851.6" y1="940.8" x2="1851.6" y2="948.3" stroke="#000" stroke-width="5"/>
<line x1="1979.9" y1="940.8" x2="1979.9" y2="948.3" stroke="#000" stroke-width="5"/>
<line x1="1532" y1="932.6" x2="1525.5" y2="932.6" stroke="#000" stroke-width="5"/>
<line x1="1532" y1="926.6" x2="1525.5" y2="926.6" stroke="#000" stroke-width="5"/>
<line x1="1532" y1="921.3" x2="1525.5" y2="921.3" stroke="#000" stroke-width="5"/>
<line x1="1532" y1="916.7" x2="1525.5" y2="916.7" stroke="#000" stroke-width="5"/>
<line x1="1532" y1="912.6" x2="1520" y2="912.6" stroke="#000" stroke-width="4.6"/>
<line x1="1532" y1="885.5" x2="1525.5" y2="885.5" stroke="#000" stroke-width="5"/>
<line x1="1532" y1="869.6" x2="1525.5" y2="869.6" stroke="#000" stroke-width="5"/>
<line x1="1532" y1="858.4" x2="1525.5" y2="858.4" stroke="#000" stroke-width="5"/>
<line x1="1532" y1="849.6" x2="1525.5" y2="849.6" stroke="#000" stroke-width="5"/>
<line x1="1532" y1="842.5" x2="1525.5" y2="842.5" stroke="#000" stroke-width="5"/>
<line x1="1532" y1="836.5" x2="1525.5" y2="836.5" stroke="#000" stroke-width="5"/>
<line x1="1532" y1="831.2" x2="1525.5" y2="831.2" stroke="#000" stroke-width="5"/>
<line x1="1532" y1="826.6" x2="1525.5" y2="826.6" stroke="#000" stroke-width="5"/>
<line x1="1532" y1="822.5" x2="1520" y2="822.5" stroke="#000" stroke-width="4.6"/>
<line x1="1532" y1="795.4" x2="1525.5" y2="795.4" stroke="#000" stroke-width="5"/>
<line x1="1532" y1="779.5" x2="1525.5" y2="779.5" stroke="#000" stroke-width="5"/>
<line x1="1532" y1="768.3" x2="1525.5" y2="768.3" stroke="#000" stroke-width="5"/>
<line x1="1532" y1="759.5" x2="1525.5" y2="759.5" stroke="#000" stroke-width="5"/>
<line x1="1532" y1="752.4" x2="1525.5" y2="752.4" stroke="#000" stroke-width="5"/>
<line x1="1532" y1="746.4" x2="1525.5" y2="746.4" stroke="#000" stroke-width="5"/>
<line x1="1532" y1="741.1" x2="1525.5" y2="741.1" stroke="#000" stroke-width="5"/>
<line x1="1532" y1="736.5" x2="1525.5" y2="736.5" stroke="#000" stroke-width="5"/>
<line x1="1532" y1="732.4" x2="1520" y2="732.4" stroke="#000" stroke-width="4.6"/>
<line x1="1532" y1="705.3" x2="1525.5" y2="705.3" stroke="#000" stroke-width="5"/>
<line x1="1532" y1="689.4" x2="1525.5" y2="689.4" stroke="#000" stroke-width="5"/>
<line x1="1532" y1="678.2" x2="1525.5" y2="678.2" stroke="#000" stroke-width="5"/>
<line x1="1532" y1="669.4" x2="1525.5" y2="669.4" stroke="#000" stroke-width="5"/>
<line x1="1532" y1="662.3" x2="1525.5" y2="662.3" stroke="#000" stroke-width="5"/>
<line x1="1532" y1="656.3" x2="1525.5" y2="656.3" stroke="#000" stroke-width="5"/>
<line x1="1532" y1="651" x2="1525.5" y2="651" stroke="#000" stroke-width="5"/>
<line x1="1532" y1="646.4" x2="1525.5" y2="646.4" stroke="#000" stroke-width="5"/>
<line x1="1532" y1="642.3" x2="1520" y2="642.3" stroke="#000" stroke-width="4.6"/>
<line x1="1532" y1="615.2" x2="1525.5" y2="615.2" stroke="#000" stroke-width="5"/>
<line x1="1532" y1="599.3" x2="1525.5" y2="599.3" stroke="#000" stroke-width="5"/>
<line x1="1532" y1="588.1" x2="1525.5" y2="588.1" stroke="#000" stroke-width="5"/>
<line x1="1532" y1="579.3" x2="1525.5" y2="579.3" stroke="#000" stroke-width="5"/>
<line x1="1532" y1="572.2" x2="1525.5" y2="572.2" stroke="#000" stroke-width="5"/>
<line x1="1532" y1="566.2" x2="1525.5" y2="566.2" stroke="#000" stroke-width="5"/>
<line x1="1532" y1="560.9" x2="1525.5" y2="560.9" stroke="#000" stroke-width="5"/>
<line x1="1532" y1="556.3" x2="1525.5" y2="556.3" stroke="#000" stroke-width="5"/>
<line x1="1532" y1="552.2" x2="1520" y2="552.2" stroke="#000" stroke-width="4.6"/>
<text x="1426" y="659.1" font-size="42" text-anchor="start" fill="#000" >1x10<tspan font-size="25" dy="-19">1</tspan></text>
<text x="1417.5" y="839.1" font-size="42" text-anchor="start" fill="#000" >1x10<tspan font-size="25" dy="-19">-1</tspan></text>
<text x="1791.3" y="1021" font-size="42" text-anchor="middle" fill="#000" >Voltage (V)</text>
<text transform="translate(1409.4,696.5) rotate(-90)" font-size="40.8" text-anchor="middle"><tspan font-style="italic">J</tspan> (mAcm<tspan font-size="25" dy="-19">-2</tspan><tspan dy="19">)</tspan></text>
<text x="1719" y="569.4" font-size="35.5" text-anchor="start" fill="#000" >λ=850 nm</text>
<line x1="1540" y1="750.8" x2="1584" y2="750.8" stroke="#000000" stroke-width="6"/>
<text x="1587.5" y="756.8" font-size="30" text-anchor="start" fill="#000" >Dark</text>
<line x1="1540" y1="791.6" x2="1584" y2="791.6" stroke="#FF0000" stroke-width="6"/>
<text x="1587.5" y="797.6" font-size="30" text-anchor="start" fill="#000" >4.83 mWcm<tspan font-size="17.5" dy="-14">-2</tspan></text>
<line x1="1540" y1="832.5" x2="1584" y2="832.5" stroke="#0000FF" stroke-width="6"/>
<text x="1587.5" y="838.5" font-size="30" text-anchor="start" fill="#000" >7.74 mWcm<tspan font-size="17.5" dy="-14">-2</tspan></text>
<line x1="1540" y1="873.3" x2="1584" y2="873.3" stroke="#00FF00" stroke-width="6"/>
<text x="1587.5" y="879.3" font-size="30" text-anchor="start" fill="#000" >10.77 mWcm<tspan font-size="17.5" dy="-14">-2</tspan></text>
<line x1="1540" y1="914.2" x2="1584" y2="914.2" stroke="#FF7F00" stroke-width="6"/>
<text x="1587.5" y="920.2" font-size="30" text-anchor="start" fill="#000" >13.81 mWcm<tspan font-size="17.5" dy="-14">-2</tspan></text>
<text x="34.5" y="1040" font-size="52.5" text-anchor="start" fill="#000" >(e)</text>
<polyline points="168.6,1303.1 189.8,1314.8 211.1,1321.8 232.4,1328.2 253.7,1333.5 274.9,1337.8 296.2,1341.2 317.5,1342.9 338.8,1344.8 360,1346.7 381.3,1357.1 402.6,1380.1 423.9,1419.2 445.1,1382 466.4,1339.7 487.7,1296.3 508.9,1252.9 530.2,1209.4 551.5,1166 572.8,1122.6 594,1079.2" fill="none" stroke="#000" stroke-width="5.6" stroke-linejoin="round" />
<rect x="126.7" y="1043.9" width="510.6" height="414" fill="none" stroke="#000" stroke-width="5.6"/>
<line x1="126" y1="1457.9" x2="126" y2="1469.9" stroke="#000" stroke-width="5"/>
<text x="125" y="1506.5" font-size="42" text-anchor="middle" fill="#000" >-0.6</text>
<line x1="253.7" y1="1457.9" x2="253.7" y2="1469.9" stroke="#000" stroke-width="5"/>
<text x="252.7" y="1506.5" font-size="42" text-anchor="middle" fill="#000" >-0.3</text>
<line x1="381.3" y1="1457.9" x2="381.3" y2="1469.9" stroke="#000" stroke-width="5"/>
<text x="380.3" y="1506.5" font-size="42" text-anchor="middle" fill="#000" >0.0</text>
<line x1="508.9" y1="1457.9" x2="508.9" y2="1469.9" stroke="#000" stroke-width="5"/>
<text x="507.9" y="1506.5" font-size="42" text-anchor="middle" fill="#000" >0.3</text>
<line x1="636.6" y1="1457.9" x2="636.6" y2="1469.9" stroke="#000" stroke-width="5"/>
<text x="635.6" y="1506.5" font-size="42" text-anchor="middle" fill="#000" >0.6</text>
<line x1="189.8" y1="1457.9" x2="189.8" y2="1465.4" stroke="#000" stroke-width="5"/>
<line x1="317.5" y1="1457.9" x2="317.5" y2="1465.4" stroke="#000" stroke-width="5"/>
<line x1="445.1" y1="1457.9" x2="445.1" y2="1465.4" stroke="#000" stroke-width="5"/>
<line x1="572.8" y1="1457.9" x2="572.8" y2="1465.4" stroke="#000" stroke-width="5"/>
<line x1="126.7" y1="1420.9" x2="114.7" y2="1420.9" stroke="#000" stroke-width="4.6"/>
<text x="111" y="1433.9" font-size="42" text-anchor="end" fill="#000" >0.0</text>
<line x1="126.7" y1="1307.6" x2="114.7" y2="1307.6" stroke="#000" stroke-width="4.6"/>
<text x="111" y="1320.6" font-size="42" text-anchor="end" fill="#000" >0.6</text>
<line x1="126.7" y1="1194.3" x2="114.7" y2="1194.3" stroke="#000" stroke-width="4.6"/>
<text x="111" y="1207.3" font-size="42" text-anchor="end" fill="#000" >1.2</text>
<line x1="126.7" y1="1081.1" x2="114.7" y2="1081.1" stroke="#000" stroke-width="4.6"/>
<text x="111" y="1094.1" font-size="42" text-anchor="end" fill="#000" >1.8</text>
<line x1="126.7" y1="1364.3" x2="119.7" y2="1364.3" stroke="#000" stroke-width="4.6"/>
<line x1="126.7" y1="1251" x2="119.7" y2="1251" stroke="#000" stroke-width="4.6"/>
<line x1="126.7" y1="1137.7" x2="119.7" y2="1137.7" stroke="#000" stroke-width="4.6"/>
<text x="410.5" y="1546.4" font-size="42" text-anchor="middle" fill="#000" >Voltage (V)</text>
<text transform="translate(46.7,1247.8) rotate(-90)" font-size="42" text-anchor="middle"><tspan font-style="italic">R</tspan> (A/W)</text>
<line x1="299.3" y1="1075.1" x2="371.5" y2="1075.1" stroke="#000" stroke-width="6"/>
<text x="385.5" y="1085.7" font-size="35.5" text-anchor="start" fill="#000" >13.81 mWcm<tspan font-size="21" dy="-16">-2</tspan></text>
<text x="325.5" y="1126.2" font-size="35.5" text-anchor="start" fill="#000" ><tspan font-style="italic">λ</tspan>=850 nm</text>
<text x="737" y="1040" font-size="52.5" text-anchor="start" fill="#000" >(f)</text>
<polyline points="879.5,1263.3 900.8,1265.7 922.1,1267.6 943.4,1269 964.8,1269.9 986.1,1269.4 1007.4,1268 1028.7,1265.2 1050,1256.8 1071.4,1247.4 1092.7,1133.7 1114,1288.7 1135.4,1444.6 1156.7,1330 1178,1309.3 1199.3,1299 1220.7,1291.5 1242,1285.9 1263.3,1282.1 1284.6,1278.4 1306,1274.6" fill="none" stroke="#FF0000" stroke-width="5.8" stroke-linejoin="miter" stroke-miterlimit="10"/>
<rect x="836.7" y="1043.5" width="511.6" height="414.4" fill="none" stroke="#000" stroke-width="5.6"/>
<line x1="836.8" y1="1457.9" x2="836.8" y2="1469.9" stroke="#000" stroke-width="5"/>
<text x="835.8" y="1506.5" font-size="42" text-anchor="middle" fill="#000" >-0.6</text>
<line x1="964.8" y1="1457.9" x2="964.8" y2="1469.9" stroke="#000" stroke-width="5"/>
<text x="963.8" y="1506.5" font-size="42" text-anchor="middle" fill="#000" >-0.3</text>
<line x1="1092.7" y1="1457.9" x2="1092.7" y2="1469.9" stroke="#000" stroke-width="5"/>
<text x="1091.7" y="1506.5" font-size="42" text-anchor="middle" fill="#000" >0.0</text>
<line x1="1220.7" y1="1457.9" x2="1220.7" y2="1469.9" stroke="#000" stroke-width="5"/>
<text x="1219.7" y="1506.5" font-size="42" text-anchor="middle" fill="#000" >0.3</text>
<line x1="1348.6" y1="1457.9" x2="1348.6" y2="1469.9" stroke="#000" stroke-width="5"/>
<text x="1347.6" y="1506.5" font-size="42" text-anchor="middle" fill="#000" >0.6</text>
<line x1="900.8" y1="1457.9" x2="900.8" y2="1465.4" stroke="#000" stroke-width="5"/>
<line x1="1028.7" y1="1457.9" x2="1028.7" y2="1465.4" stroke="#000" stroke-width="5"/>
<line x1="1156.7" y1="1457.9" x2="1156.7" y2="1465.4" stroke="#000" stroke-width="5"/>
<line x1="1284.6" y1="1457.9" x2="1284.6" y2="1465.4" stroke="#000" stroke-width="5"/>
<line x1="836.7" y1="1458.1" x2="824.7" y2="1458.1" stroke="#000" stroke-width="4.6"/>
<line x1="836.7" y1="1430" x2="830.2" y2="1430" stroke="#000" stroke-width="5"/>
<line x1="836.7" y1="1413.5" x2="830.2" y2="1413.5" stroke="#000" stroke-width="5"/>
<line x1="836.7" y1="1401.9" x2="830.2" y2="1401.9" stroke="#000" stroke-width="5"/>
<line x1="836.7" y1="1392.8" x2="830.2" y2="1392.8" stroke="#000" stroke-width="5"/>
<line x1="836.7" y1="1385.4" x2="830.2" y2="1385.4" stroke="#000" stroke-width="5"/>
<line x1="836.7" y1="1379.2" x2="830.2" y2="1379.2" stroke="#000" stroke-width="5"/>
<line x1="836.7" y1="1373.8" x2="830.2" y2="1373.8" stroke="#000" stroke-width="5"/>
<line x1="836.7" y1="1369" x2="830.2" y2="1369" stroke="#000" stroke-width="5"/>
<line x1="836.7" y1="1364.7" x2="824.7" y2="1364.7" stroke="#000" stroke-width="4.6"/>
<line x1="836.7" y1="1336.6" x2="830.2" y2="1336.6" stroke="#000" stroke-width="5"/>
<line x1="836.7" y1="1320.1" x2="830.2" y2="1320.1" stroke="#000" stroke-width="5"/>
<line x1="836.7" y1="1308.5" x2="830.2" y2="1308.5" stroke="#000" stroke-width="5"/>
<line x1="836.7" y1="1299.4" x2="830.2" y2="1299.4" stroke="#000" stroke-width="5"/>
<line x1="836.7" y1="1292" x2="830.2" y2="1292" stroke="#000" stroke-width="5"/>
<line x1="836.7" y1="1285.8" x2="830.2" y2="1285.8" stroke="#000" stroke-width="5"/>
<line x1="836.7" y1="1280.4" x2="830.2" y2="1280.4" stroke="#000" stroke-width="5"/>
<line x1="836.7" y1="1275.6" x2="830.2" y2="1275.6" stroke="#000" stroke-width="5"/>
<line x1="836.7" y1="1271.3" x2="824.7" y2="1271.3" stroke="#000" stroke-width="4.6"/>
<line x1="836.7" y1="1243.2" x2="830.2" y2="1243.2" stroke="#000" stroke-width="5"/>
<line x1="836.7" y1="1226.7" x2="830.2" y2="1226.7" stroke="#000" stroke-width="5"/>
<line x1="836.7" y1="1215.1" x2="830.2" y2="1215.1" stroke="#000" stroke-width="5"/>
<line x1="836.7" y1="1206" x2="830.2" y2="1206" stroke="#000" stroke-width="5"/>
<line x1="836.7" y1="1198.6" x2="830.2" y2="1198.6" stroke="#000" stroke-width="5"/>
<line x1="836.7" y1="1192.4" x2="830.2" y2="1192.4" stroke="#000" stroke-width="5"/>
<line x1="836.7" y1="1187" x2="830.2" y2="1187" stroke="#000" stroke-width="5"/>
<line x1="836.7" y1="1182.2" x2="830.2" y2="1182.2" stroke="#000" stroke-width="5"/>
<line x1="836.7" y1="1177.9" x2="824.7" y2="1177.9" stroke="#000" stroke-width="4.6"/>
<line x1="836.7" y1="1149.8" x2="830.2" y2="1149.8" stroke="#000" stroke-width="5"/>
<line x1="836.7" y1="1133.3" x2="830.2" y2="1133.3" stroke="#000" stroke-width="5"/>
<line x1="836.7" y1="1121.7" x2="830.2" y2="1121.7" stroke="#000" stroke-width="5"/>
<line x1="836.7" y1="1112.6" x2="830.2" y2="1112.6" stroke="#000" stroke-width="5"/>
<line x1="836.7" y1="1105.2" x2="830.2" y2="1105.2" stroke="#000" stroke-width="5"/>
<line x1="836.7" y1="1099" x2="830.2" y2="1099" stroke="#000" stroke-width="5"/>
<line x1="836.7" y1="1093.6" x2="830.2" y2="1093.6" stroke="#000" stroke-width="5"/>
<line x1="836.7" y1="1088.8" x2="830.2" y2="1088.8" stroke="#000" stroke-width="5"/>
<line x1="836.7" y1="1084.5" x2="824.7" y2="1084.5" stroke="#000" stroke-width="4.6"/>
<line x1="836.7" y1="1056.4" x2="830.2" y2="1056.4" stroke="#000" stroke-width="5"/>
<text x="717.5" y="1101.1" font-size="42.5" text-anchor="start" fill="#000" >1x10<tspan font-size="26" dy="-20">12</tspan></text>
<text x="717.5" y="1287.7" font-size="42.5" text-anchor="start" fill="#000" >1x10<tspan font-size="26" dy="-20">10</tspan></text>
<text x="730" y="1474.7" font-size="42.5" text-anchor="start" fill="#000" >1x10<tspan font-size="26" dy="-20">8</tspan></text>
<text x="1098" y="1547" font-size="42" text-anchor="middle" fill="#000" >Voltage (V)</text>
<text transform="translate(711,1287.5) rotate(-90)" font-size="41.3" text-anchor="middle"><tspan font-style="italic">D</tspan>* (cmHz<tspan font-size="25" dy="-17">1/2</tspan><tspan dy="17">W</tspan><tspan font-size="25" dy="-17">-1</tspan><tspan dy="17">)</tspan></text>
<line x1="1025" y1="1072.7" x2="1097.3" y2="1072.7" stroke="#FF0000" stroke-width="6"/>
<text x="1102.5" y="1082.2" font-size="35.5" text-anchor="start" fill="#000" >13.81 mWcm<tspan font-size="21" dy="-16">-2</tspan></text>
<text x="1030.5" y="1126.2" font-size="35.5" text-anchor="start" fill="#000" ><tspan font-style="italic">λ</tspan>=850 nm</text>
<text x="1457" y="1040" font-size="52.5" text-anchor="start" fill="#000" >(g)</text>
<polyline points="1535,1414.1 1536.5,1422.6 1538,1415.1 1539.5,1409.3 1541,1417.3 1542.5,1407.7 1544,1407.6 1545.5,1432.5 1547,1423.7 1548.5,1417.8 1550,1422.8 1551.2,1426 1552,1428 1553.2,1193 1554.5,1177.6 1556,1167.7 1557.5,1178.6 1559,1176.2 1560.5,1172.5 1562,1168.6 1563.5,1172.9 1565,1167.6 1566.5,1157.2 1568,1139.7 1569.5,1152.6 1571,1149.7 1572.5,1143.8 1574,1151.8 1575.5,1150.4 1577,1135.4 1578.5,1143.1 1580,1131.4 1581.5,1141.8 1583,1128.2 1584.5,1111.9 1586,1125.9 1587.5,1128.4 1589,1131.2 1590.5,1117.7 1592,1122.3 1593.1,1129 1594.6,1350 1596.1,1362.7 1597.6,1357 1599.1,1359.2 1600.6,1371.6 1602.1,1364.4 1603.6,1369.3 1605.1,1380.4 1606.6,1385.6 1608.1,1379.2 1609.6,1384 1611.1,1395.1 1612.6,1392.5 1614.1,1389.8 1615.6,1402.6 1617.1,1395.9 1618.6,1405.2 1620.1,1400 1621.6,1411.8 1623.1,1399.2 1624.6,1407 1626.1,1409.1 1627.6,1415.6 1629.1,1411.4 1630.6,1411.3 1632.1,1419.5 1633.6,1421.4 1635.1,1426.4 1635.9,1429 1636.5,1429 1637.7,1200 1639,1186.7 1640.5,1179.5 1642,1184.2 1643.5,1177.2 1645,1184.3 1646.5,1177.6 1648,1173.3 1649.5,1147.1 1651,1168.6 1652.5,1156 1654,1159.6 1655.5,1154.5 1657,1148.3 1658.5,1155 1660,1152.5 1661.5,1151 1663,1142.6 1664.5,1148.1 1666,1139.4 1667.5,1143.8 1669,1138.8 1670.5,1136.7 1672,1128.3 1673.5,1139.9 1675,1135.3 1676.5,1134.7 1677.6,1134 1679.1,1350 1680.6,1356.9 1682.1,1356.5 1683.6,1360.2 1685.1,1370.9 1686.6,1378.2 1688.1,1381.2 1689.6,1369.9 1691.1,1383.5 1692.6,1397.3 1694.1,1394.6 1695.6,1396.6 1697.1,1398.4 1698.6,1410.4 1700.1,1414.7 1701.6,1413.8 1703.1,1410.6 1704.6,1423.4 1706.1,1424.5 1707.6,1421.1 1709.1,1426 1710.6,1425.1 1712.1,1433 1713.6,1430.7 1715.1,1441.8 1716.6,1445.6 1718.1,1440.8 1719.8,1447 1720.4,1447 1721.6,1186 1722.9,1177.2 1724.4,1169.5 1725.9,1157.5 1727.4,1165.7 1728.9,1159.7 1730.4,1162.1 1731.9,1161.8 1733.4,1163 1734.9,1149.4 1736.4,1134.5 1737.9,1151 1739.4,1142.2 1740.9,1145.5 1742.4,1141.9 1743.9,1136.5 1745.4,1125.9 1746.9,1136.7 1748.4,1130.9 1749.9,1135.4 1751.4,1128.9 1752.9,1130.4 1754.4,1124.3 1755.9,1119.3 1757.4,1126.8 1758.9,1124.4 1760.4,1126.2 1762.1,1123 1763.6,1350 1765.1,1364.5 1766.6,1366.5 1768.1,1372.7 1769.6,1380.8 1771.1,1379.5 1772.6,1373.3 1774.1,1378 1775.6,1383.5 1777.1,1396.1 1778.6,1391 1780.1,1402.7 1781.6,1405.9 1783.1,1406.6 1784.6,1404.3 1786.1,1413.7 1787.6,1419.7 1789.1,1419.8 1790.6,1423.1 1792.1,1423.4 1793.6,1433.2 1795.1,1434.9 1796.6,1432.5 1798.1,1430 1799.6,1436.1 1801.1,1431 1802.6,1439.1 1804.3,1448 1804.9,1448 1806.1,1207 1807.4,1203.5 1808.9,1194.6 1810.4,1184.3 1811.9,1184.9 1813.4,1187.8 1814.9,1177.5 1816.4,1173 1817.9,1175.7 1819.4,1163.8 1820.9,1164.4 1822.4,1154 1823.9,1149.2 1825.4,1148.8 1826.9,1147 1828.4,1134.4 1829.9,1138.5 1831.4,1137.6 1832.9,1139 1834.4,1134.4 1835.9,1134.3 1837.4,1127.8 1838.9,1132 1840.4,1133.3 1841.9,1131.9 1843.4,1129.1 1844.9,1130.4 1846.6,1127 1848.1,1362 1849.6,1365.2 1851.1,1367.2 1852.6,1379.8 1854.1,1374 1855.6,1392 1857.1,1387.9 1858.6,1385.5 1860.1,1383 1861.6,1395.1 1863.1,1389.9 1864.6,1398.1 1866.1,1405.1 1867.6,1403.9 1869.1,1406.5 1870.6,1403.5 1872.1,1414.8 1873.6,1409.7 1875.1,1413.7 1876.6,1413.7 1878.1,1418.1 1879.6,1407.3 1881.1,1416.5 1882.6,1425.6 1884.1,1419.1 1885.6,1409.3 1887,1433 1887.6,1433 1888.8,1207 1890.1,1202.2 1891.6,1196.6 1893.1,1191.8 1894.6,1192.9 1896.1,1178.6 1897.6,1181.3 1899.1,1178.4 1900.6,1175.7 1902.1,1169.1 1903.6,1166.5 1905.1,1151.7 1906.6,1144.7 1908.1,1154.7 1909.6,1145.9 1911.1,1149 1912.6,1146.1 1914.1,1141.6 1915.6,1145.6 1917.1,1139.1 1918.6,1127.8 1920.1,1135.3 1921.6,1119.2 1923.1,1116.7 1924.6,1132.7 1926.1,1125.9 1927.6,1125.7 1929.4,1127 1930.9,1362 1932.4,1371.2 1933.9,1367.6 1935.4,1396.8 1936.9,1381.4 1938.4,1385.7 1939.9,1383.5 1941.4,1392.4 1942.9,1398.6 1944.4,1397.9 1945.9,1405.2 1947.4,1410.9 1948.9,1404.4 1950.4,1408 1951.9,1421.1 1953.4,1426.1 1954.9,1417.1 1956.4,1447.6 1957.9,1428.5 1959.4,1427.7 1960.9,1439.8 1962.4,1435.4 1963.9,1442.3 1965.4,1434.4 1966.9,1440.8 1968.4,1436.6 1969.9,1438.8 1971.5,1453 1972.1,1453 1973.3,1207 1974.6,1202.5 1976.1,1192.8 1977.6,1191.1 1979.1,1188.8 1980.6,1191 1982.1,1162.3 1983.6,1181.5 1985.1,1172.2 1986.6,1173.4 1988.1,1168.9 1989.6,1168 1991.1,1158 1992.6,1164.4 1994.1,1139.2 1995.6,1152.2 1997.1,1145.1 1998.6,1128.9 2000.1,1146.8 2001.6,1142.2 2003.1,1137.9 2004.6,1143.6 2006.1,1118 2007.6,1138.7 2009.1,1131.7 2010.6,1131.2 2012.1,1131.9 2013.9,1136 2015.4,1362 2016.9,1376.4 2018.4,1374.6 2019.9,1384.1 2021.4,1395.5 2022.9,1380.5 2024.4,1390 2025.9,1391.1 2027.4,1391.5 2028.9,1392.7 2030.4,1406.8 2031.9,1402.2 2033.4,1413.3 2034.9,1407.5 2036.4,1416.3 2037.9,1423.8 2039.4,1418.8 2040.9,1418.7 2042.4,1421.5 2043.9,1432" fill="none" stroke="#0000FF" stroke-width="5.8" stroke-linejoin="round" />
<rect x="2047.6" y="1040" width="22.4" height="425" fill="#fff"/>
<rect x="1534.4" y="1043.5" width="512.4" height="415.5" fill="none" stroke="#000" stroke-width="5.6"/>
<line x1="1584.8" y1="1459" x2="1584.8" y2="1471" stroke="#000" stroke-width="5"/>
<text x="1583.8" y="1506.5" font-size="42" text-anchor="middle" fill="#000" >18</text>
<line x1="1735.6" y1="1459" x2="1735.6" y2="1471" stroke="#000" stroke-width="5"/>
<text x="1734.6" y="1506.5" font-size="42" text-anchor="middle" fill="#000" >36</text>
<line x1="1886.5" y1="1459" x2="1886.5" y2="1471" stroke="#000" stroke-width="5"/>
<text x="1885.5" y="1506.5" font-size="42" text-anchor="middle" fill="#000" >54</text>
<line x1="2037.3" y1="1459" x2="2037.3" y2="1471" stroke="#000" stroke-width="5"/>
<text x="2036.3" y="1506.5" font-size="42" text-anchor="middle" fill="#000" >72</text>
<line x1="1660.2" y1="1459" x2="1660.2" y2="1466.5" stroke="#000" stroke-width="5"/>
<line x1="1811.1" y1="1459" x2="1811.1" y2="1466.5" stroke="#000" stroke-width="5"/>
<line x1="1961.9" y1="1459" x2="1961.9" y2="1466.5" stroke="#000" stroke-width="5"/>
<line x1="1534.4" y1="1069.9" x2="1522.4" y2="1069.9" stroke="#000" stroke-width="4.6"/>
<text x="1518.5" y="1082.9" font-size="42" text-anchor="end" fill="#000" >-6.110</text>
<line x1="1534.4" y1="1208.1" x2="1522.4" y2="1208.1" stroke="#000" stroke-width="4.6"/>
<text x="1518.5" y="1221.1" font-size="42" text-anchor="end" fill="#000" >-6.115</text>
<line x1="1534.4" y1="1346.3" x2="1522.4" y2="1346.3" stroke="#000" stroke-width="4.6"/>
<text x="1518.5" y="1359.3" font-size="42" text-anchor="end" fill="#000" >-6.120</text>
<line x1="1534.4" y1="1139" x2="1527.4" y2="1139" stroke="#000" stroke-width="4.6"/>
<line x1="1534.4" y1="1277.2" x2="1527.4" y2="1277.2" stroke="#000" stroke-width="4.6"/>
<line x1="1534.4" y1="1415.4" x2="1527.4" y2="1415.4" stroke="#000" stroke-width="4.6"/>
<text x="1821.6" y="1542.8" font-size="42" text-anchor="middle" fill="#000" >Time (s)</text>
<text transform="translate(1392.7,1224.8) rotate(-90)" font-size="41.5" text-anchor="middle">Current (mA)</text>
<line x1="1752" y1="1077.6" x2="1815.4" y2="1077.6" stroke="#0000FF" stroke-width="6"/>
<text x="1817.5" y="1085.7" font-size="35.5" text-anchor="start" fill="#000" >13.81 mWcm<tspan font-size="21" dy="-16">-2</tspan></text>
<text x="1719" y="1115.6" font-size="35.5" text-anchor="start" fill="#000" ><tspan font-style="italic">λ</tspan>=850 nm</text>
<text x="1557" y="1121" font-size="25" text-anchor="start" fill="#000" >ON</text>
<text x="1598" y="1446.6" font-size="25.5" text-anchor="start" fill="#000" >OFF</text>
</g></svg>
</body></html>
